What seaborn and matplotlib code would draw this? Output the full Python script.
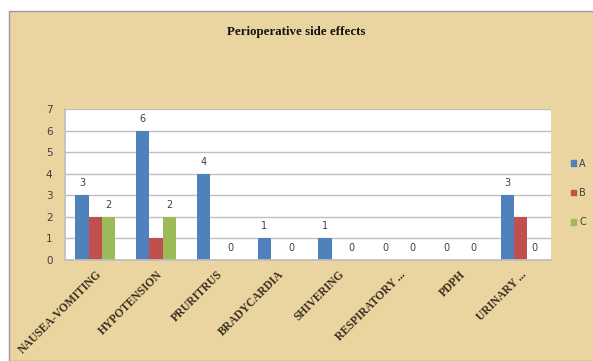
import matplotlib
matplotlib.use("Agg")
import matplotlib.pyplot as plt
import matplotlib.patches as mpatches
import seaborn as sns
import pandas as pd

categories = ["NAUSEA-VOMITING", "HYPOTENSION", "PRURITRUS", "BRADYCARDIA",
              "SHIVERING", "RESPIRATORY ...", "PDPH", "URINARY ..."]
series_names = ["A", "B", "C"]
values_A = [3, 6, 4, 1, 1, 0, 0, 3]
values_B = [2, 1, 0, 0, 0, 0, 0, 2]
values_C = [2, 2, 0, 0, 0, 0, 0, 0]
yticks = [0, 1, 2, 3, 4, 5, 6, 7]
labelled_series = ["A", "C"]
colors = {"A": "#4F81BD", "B": "#C0504D", "C": "#9BBB59"}
title = "Perioperative side effects"

df = pd.DataFrame({
    "category": categories * 3,
    "group": ["A"] * 8 + ["B"] * 8 + ["C"] * 8,
    "value": values_A + values_B + values_C,
})

sns.set_theme(style="white")
plt.rcParams["font.family"] = ["DejaVu Sans"]

fig = plt.figure(figsize=(5.93, 3.61), dpi=100)
fig.patch.set_facecolor("white")

# chart frame (papyrus background)
frame = mpatches.Rectangle((9 / 593, 0), 1.0, 1 - 11 / 361, transform=fig.transFigure,
                           facecolor="#EAD49F", edgecolor="#9A9A9A", linewidth=1.0,
                           zorder=-5)
fig.patches.append(frame)

ax = fig.add_axes([65 / 593, 1 - 260 / 361, (551 - 65) / 593, (260 - 109) / 361])
ax.set_zorder(1)
ax.set_facecolor("white")

sns.barplot(data=df, x="category", y="value", hue="group", hue_order=series_names,
            palette=colors, width=0.66, saturation=1, ax=ax, legend=False,
            edgecolor="none", linewidth=0)

ax.set_ylim(0, 7)
ax.set_yticks(yticks)
ax.set_xlim(-0.5, len(categories) - 0.5)
ax.yaxis.grid(True, color="#BFBFBF", linewidth=1.0)
ax.set_axisbelow(True)
for s in ["top", "right"]:
    ax.spines[s].set_visible(False)
ax.spines["left"].set_color("#BFBFBF")
ax.spines["bottom"].set_color("#BFBFBF")
ax.tick_params(axis="both", length=0)
ax.tick_params(axis="y", labelsize=7.5, labelcolor="#404040", pad=9)
ax.set_xlabel("")
ax.set_ylabel("")

ax.set_xticks(range(len(categories)))
ax.set_xticklabels(categories, rotation=45, ha="right", rotation_mode="anchor",
                   fontsize=8.3, fontweight="bold", family="Liberation Serif",
                   color="#3a3020")
ax.tick_params(axis="x", pad=6)

# value labels for A and C
for cont, name in zip(ax.containers, series_names):
    if name in labelled_series:
        ax.bar_label(cont, labels=[str(int(v)) for v in cont.datavalues],
                     padding=5, fontsize=7, color="#404040")

fig.text(0.5, 1 - 32 / 361, title, ha="center", va="center", fontsize=9.3,
         fontweight="bold", family="Liberation Serif", color="#111111")

handles = [mpatches.Patch(color=colors[n], label=n) for n in series_names]
fig.legend(handles=handles, loc="center left", bbox_to_anchor=(562 / 593, 1 - 193 / 361),
           frameon=False, fontsize=7, labelcolor="#404040", handlelength=0.55,
           handleheight=0.55, handletextpad=0.3, labelspacing=2.0)

fig.savefig("out.png", dpi=100)
